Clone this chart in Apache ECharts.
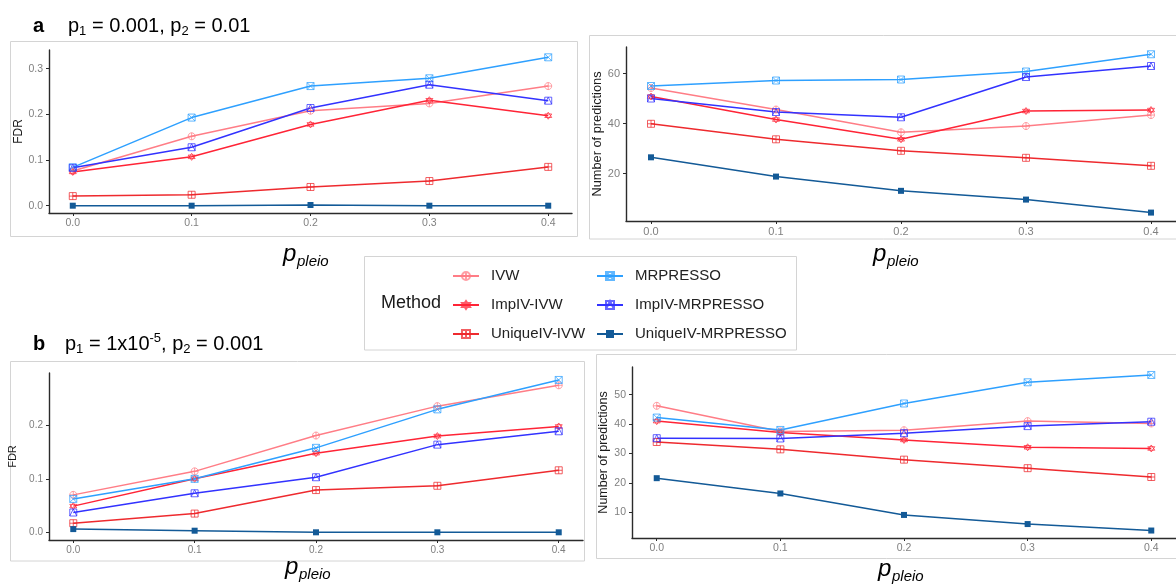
<!DOCTYPE html>
<html>
<head>
<meta charset="utf-8">
<script src="https://cdn.jsdelivr.net/npm/echarts@6/dist/echarts.min.js"></script>
<style>
html,body{margin:0;padding:0;background:#fff;}
#chart{width:1176px;height:585px;}
</style>
</head>
<body>
<div id="chart"></div>
<script>
// ---------------- data ----------------
const pPleio = [0, 0.1, 0.2, 0.3, 0.4];
const methods = ['IVW', 'ImpIV-IVW', 'UniqueIV-IVW', 'MRPRESSO', 'ImpIV-MRPRESSO', 'UniqueIV-MRPRESSO'];

// panel a (p1 = 0.001, p2 = 0.01) – FDR
const aFDR_IVW      = [0.076, 0.152, 0.208, 0.224, 0.262];
const aFDR_ImpIVW   = [0.074, 0.107, 0.178, 0.231, 0.197];
const aFDR_UniqIVW  = [0.021, 0.024, 0.041, 0.054, 0.085];
const aFDR_MR       = [0.084, 0.193, 0.262, 0.279, 0.325];
const aFDR_ImpMR    = [0.083, 0.128, 0.214, 0.265, 0.230];
const aFDR_UniqMR   = [0.000, 0.000, 0.0015, 0.000, 0.000];
// panel a – number of predictions
const aNum_IVW      = [54.2, 45.6, 36.5, 39.0, 43.4];
const aNum_ImpIVW   = [50.8, 41.6, 33.7, 45.0, 45.4];
const aNum_UniqIVW  = [39.9, 33.7, 29.1, 26.3, 23.1];
const aNum_MR       = [55.0, 57.2, 57.6, 60.8, 67.7];
const aNum_ImpMR    = [50.0, 44.6, 42.5, 58.6, 63.0];
const aNum_UniqMR   = [26.5, 18.8, 13.1, 9.6, 4.4];
// panel b (p1 = 1x10^-5, p2 = 0.001) – FDR
const bFDR_IVW      = [0.070, 0.114, 0.181, 0.236, 0.275];
const bFDR_ImpIVW   = [0.049, 0.100, 0.148, 0.180, 0.198];
const bFDR_UniqIVW  = [0.017, 0.035, 0.079, 0.087, 0.116];
const bFDR_MR       = [0.0625, 0.100, 0.158, 0.230, 0.285];
const bFDR_ImpMR    = [0.037, 0.073, 0.103, 0.164, 0.189];
const bFDR_UniqMR   = [0.006, 0.003, 0.000, 0.000, 0.000];
// panel b – number of predictions
const bNum_IVW      = [46.2, 37.5, 37.9, 41.0, 40.2];
const bNum_ImpIVW   = [41.0, 37.1, 34.6, 32.1, 31.7];
const bNum_UniqIVW  = [33.9, 31.4, 27.9, 25.0, 22.0];
const bNum_MR       = [42.2, 38.0, 47.0, 54.2, 56.7];
const bNum_ImpMR    = [35.2, 35.1, 36.9, 39.3, 40.8];
const bNum_UniqMR   = [21.6, 16.4, 9.1, 6.0, 3.8];

const xTicks = [0, 0.1, 0.2, 0.3, 0.4];
const yTicksA1 = [0, 0.1, 0.2, 0.3];
const yTicksA2 = [20, 40, 60];
const yTicksB1 = [0, 0.1, 0.2];
const yTicksB2 = [10, 20, 30, 40, 50];

// ---------------- styling ----------------
const FONT = 'Liberation Sans, Arial, sans-serif';
const colors = {
  'IVW': '#ff7d86',
  'ImpIV-IVW': '#ff2436',
  'UniqueIV-IVW': '#ee2a2e',
  'MRPRESSO': '#2ea0ff',
  'ImpIV-MRPRESSO': '#3232ff',
  'UniqueIV-MRPRESSO': '#135a97'
};
const symbols = {
  'IVW': 'path://M0,5 C0,2.24 2.24,0 5,0 C7.76,0 10,2.24 10,5 C10,7.76 7.76,10 5,10 C2.24,10 0,7.76 0,5 Z M5,0 L5,10 M0,5 L10,5',
  'ImpIV-IVW': 'path://M5,0 L10,7.5 L0,7.5 Z M5,10 L0,2.5 L10,2.5 Z',
  'UniqueIV-IVW': 'path://M0,0 L10,0 L10,10 L0,10 Z M5,0 L5,10 M0,5 L10,5',
  'MRPRESSO': 'path://M0,0 L10,0 L10,10 L0,10 Z M0,0 L10,10 M10,0 L0,10',
  'ImpIV-MRPRESSO': 'path://M0,0 L10,0 L10,10 L0,10 Z M0,10 L5,0 L10,10',
  'UniqueIV-MRPRESSO': 'rect'
};

const panels = [
  { key: 'aFDR', data: [aFDR_IVW, aFDR_ImpIVW, aFDR_UniqIVW, aFDR_MR, aFDR_ImpMR, aFDR_UniqMR],
    grid: { left: 49, top: 50, right: 604, bottom: 372 },
    x: [-0.02, 0.42], y: [-0.016, 0.341], yTicks: yTicksA1, yDec: 1,
    name: 'FDR', nameGap: 17, nameSize: 12, labelSize: 10.5 },
  { key: 'aNum', data: [aNum_IVW, aNum_ImpIVW, aNum_UniqIVW, aNum_MR, aNum_ImpMR, aNum_UniqMR],
    grid: { left: 626, top: 47, right: -9, bottom: 364 },
    x: [-0.02, 0.42], y: [1.04, 70.6], yTicks: yTicksA2, yDec: 0,
    name: 'Number of predictions', nameGap: 21, nameSize: 12.8, labelSize: 11 },
  { key: 'bFDR', data: [bFDR_IVW, bFDR_ImpIVW, bFDR_UniqIVW, bFDR_MR, bFDR_ImpMR, bFDR_UniqMR],
    grid: { left: 49, top: 373, right: 593, bottom: 45 },
    x: [-0.02, 0.42], y: [-0.0144, 0.298], yTicks: yTicksB1, yDec: 1,
    name: 'FDR', nameGap: 31, nameSize: 11, labelSize: 10 },
  { key: 'bNum', data: [bNum_IVW, bNum_ImpIVW, bNum_UniqIVW, bNum_MR, bNum_ImpMR, bNum_UniqMR],
    grid: { left: 632, top: 367, right: -3, bottom: 47 },
    x: [-0.02, 0.42], y: [1.26, 59.4], yTicks: yTicksB2, yDec: 0,
    name: 'Number of predictions', nameGap: 17, nameSize: 12.5, labelSize: 10.5 }
];

const grids = [], xAxes = [], yAxes = [], series = [];
panels.forEach((p, i) => {
  grids.push(Object.assign({ containLabel: false }, p.grid));
  xAxes.push({
    type: 'value', gridIndex: i, min: p.x[0], max: p.x[1],
    splitLine: { show: false },
    axisLine: { show: true, onZero: false, lineStyle: { color: '#2b2b2b', width: 1.4 } },
    axisTick: { show: true, length: 3, lineStyle: { color: '#2b2b2b' }, customValues: xTicks },
    axisLabel: { color: '#808080', fontSize: p.labelSize, fontFamily: FONT, margin: 5,
      customValues: xTicks, formatter: v => v.toFixed(1) }
  });
  yAxes.push({
    type: 'value', gridIndex: i, min: p.y[0], max: p.y[1],
    name: p.name, nameLocation: 'middle', nameGap: p.nameGap,
    nameTextStyle: { color: '#1a1a1a', fontSize: p.nameSize, fontFamily: FONT },
    splitLine: { show: false },
    axisLine: { show: true, onZero: false, lineStyle: { color: '#2b2b2b', width: 1.4 } },
    axisTick: { show: true, length: 3, lineStyle: { color: '#2b2b2b' }, customValues: p.yTicks },
    axisLabel: { color: '#808080', fontSize: p.labelSize, fontFamily: FONT, margin: 6,
      customValues: p.yTicks, formatter: v => v.toFixed(p.yDec) }
  });
  methods.forEach((m, k) => {
    const filled = m === 'UniqueIV-MRPRESSO';
    series.push({
      type: 'line', name: m, xAxisIndex: i, yAxisIndex: i,
      data: pPleio.map((x, j) => [x, p.data[k][j]]),
      symbol: symbols[m], symbolSize: filled ? 6 : 7,
      showAllSymbol: true, animation: false,
      lineStyle: { color: colors[m], width: 1.5 },
      itemStyle: filled
        ? { color: colors[m], borderWidth: 0 }
        : { color: 'rgba(255,255,255,0)', borderColor: colors[m], borderWidth: 1, opacity: 0.75 },
      emphasis: { disabled: true }
    });
  });
});

const legendCommon = {
  orient: 'vertical', itemWidth: 26, itemHeight: 10, itemGap: 14,
  selectedMode: false,
  textStyle: { color: '#222', fontSize: 15, fontFamily: FONT, padding: [0, 0, 0, 7] }
};

const box = (x, y, w, h) => ({ type: 'rect', shape: { x, y, width: w, height: h },
  style: { fill: 'none', stroke: '#d4d4d4', lineWidth: 1 }, silent: true });

const titleRich = {
  m: { fontSize: 20, fontFamily: FONT, color: '#000', lineHeight: 24 },
  s: { fontSize: 13, fontFamily: FONT, color: '#000', lineHeight: 14, verticalAlign: 'bottom' },
  u: { fontSize: 13, fontFamily: FONT, color: '#000', lineHeight: 14, verticalAlign: 'top' }
};
const txt = (x, y, text, extra) => ({ type: 'text', x, y, silent: true,
  style: Object.assign({ text, fontFamily: FONT, fill: '#000', verticalAlign: 'middle' }, extra) });

const pleio = (x, yBase) => [
  txt(x, yBase - 8.4, 'p', { fontSize: 24, fontStyle: 'italic' }),
  txt(x + 14, yBase + 3.6 - 5.2, 'pleio', { fontSize: 15, fontStyle: 'italic' })
];

const graphics = [
  box(10.5, 41.5, 567, 195),
  box(589.5, 35.5, 600, 203.5),
  box(10.5, 361.5, 574, 199.5),
  box(596.5, 354.5, 600, 204),
  box(364.5, 256.5, 432, 93.5),
  txt(33, 26, 'a', { fontSize: 20, fontWeight: 'bold' }),
  txt(68, 26, '{m|p}{s|1}{m| = 0.001, p}{s|2}{m| = 0.01}', { rich: titleRich }),
  txt(33, 344, 'b', { fontSize: 20, fontWeight: 'bold' }),
  txt(65, 344, '{m|p}{s|1}{m| = 1x10}{u|-5}{m|, p}{s|2}{m| = 0.001}', { rich: titleRich }),
  txt(381, 303, 'Method', { fontSize: 18, fill: '#1a1a1a' })
].concat(pleio(283, 263), pleio(873, 263), pleio(285, 576), pleio(878, 578));

const chart = echarts.init(document.getElementById('chart'), null, { renderer: 'canvas' });
chart.setOption({
  backgroundColor: '#fff',
  animation: false,
  grid: grids, xAxis: xAxes, yAxis: yAxes, series,
  legend: [
    Object.assign({ left: 447, top: 263.5, data: methods.slice(0, 3) }, legendCommon),
    Object.assign({ left: 591, top: 263.5, data: methods.slice(3) }, legendCommon)
  ],
  graphic: graphics
});
</script>
</body>
</html>
